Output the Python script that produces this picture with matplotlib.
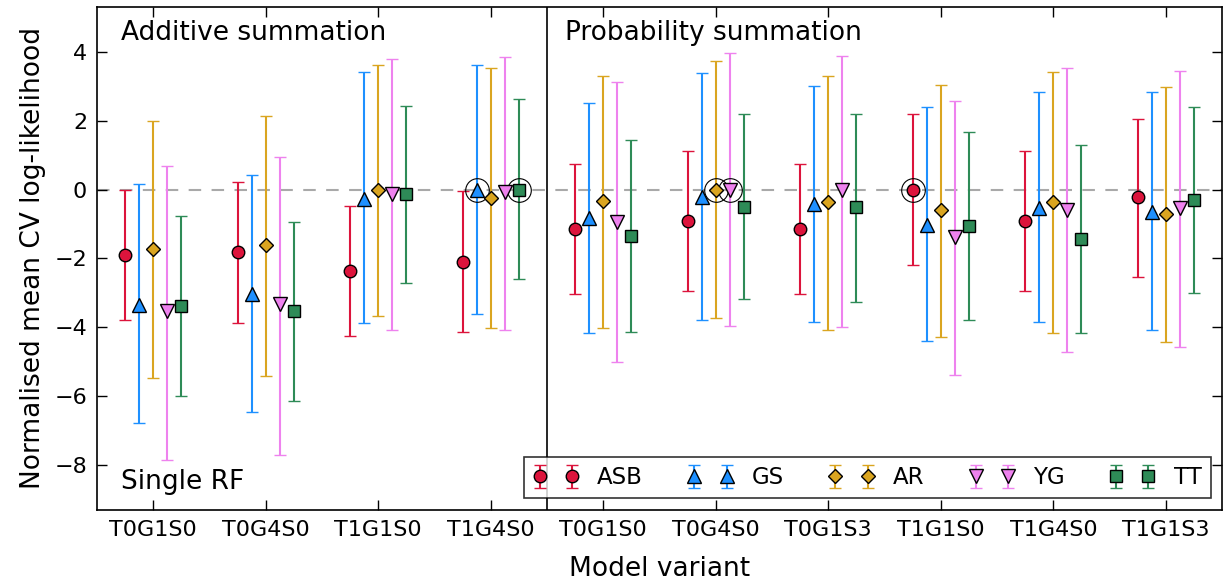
import matplotlib.pyplot as plt
import numpy as np

variants = ['T0G1S0', 'T0G4S0', 'T1G1S0', 'T1G4S0',
            'T0G1S0', 'T0G4S0', 'T0G1S3', 'T1G1S0', 'T1G4S0', 'T1G1S3']
names = ['ASB', 'GS', 'AR', 'YG', 'TT']

# mean, upper and lower ends of the bars per model
asb_mean = [-1.90, -1.82, -2.37, -2.10, -1.14, -0.90, -1.14, 0.00, -0.90, -0.23]
asb_hi = [0.00, 0.22, -0.49, -0.05, 0.73, 1.13, 0.73, 2.19, 1.13, 2.05]
asb_lo = [-3.80, -3.87, -4.26, -4.14, -3.03, -2.95, -3.03, -2.18, -2.95, -2.53]

gs_mean = [-3.35, -3.04, -0.26, 0.00, -0.84, -0.22, -0.42, -1.02, -0.53, -0.64]
gs_hi = [0.15, 0.42, 3.41, 3.63, 2.50, 3.38, 3.01, 2.39, 2.84, 2.82]
gs_lo = [-6.79, -6.45, -3.87, -3.61, -4.18, -3.80, -3.86, -4.40, -3.86, -4.09]

ar_mean = [-1.74, -1.62, -0.02, -0.25, -0.34, 0.00, -0.37, -0.60, -0.37, -0.72]
ar_hi = [1.98, 2.14, 3.63, 3.53, 3.30, 3.73, 3.30, 3.04, 3.41, 2.99]
ar_lo = [-5.48, -5.40, -3.67, -4.02, -4.01, -3.72, -4.08, -4.27, -4.16, -4.43]

yg_mean = [-3.54, -3.33, -0.12, -0.08, -0.94, 0.00, -0.02, -1.38, -0.58, -0.55]
yg_hi = [0.67, 0.95, 3.80, 3.85, 3.11, 3.97, 3.87, 2.56, 3.52, 3.43]
yg_lo = [-7.85, -7.71, -4.07, -4.07, -5.02, -3.95, -3.98, -5.39, -4.72, -4.57]

tt_mean = [-3.38, -3.53, -0.14, 0.00, -1.35, -0.50, -0.52, -1.06, -1.45, -0.29]
tt_hi = [-0.78, -0.94, 2.42, 2.63, 1.43, 2.18, 2.18, 1.67, 1.28, 2.41]
tt_lo = [-5.99, -6.14, -2.72, -2.61, -4.14, -3.19, -3.26, -3.80, -4.18, -2.99]

# which model was best in each variant (circled)
best = [[3, 'GS'], [3, 'TT'], [5, 'AR'], [5, 'YG'], [7, 'ASB']]

means = [asb_mean, gs_mean, ar_mean, yg_mean, tt_mean]
his = [asb_hi, gs_hi, ar_hi, yg_hi, tt_hi]
los = [asb_lo, gs_lo, ar_lo, yg_lo, tt_lo]
colors = ['crimson', 'dodgerblue', 'goldenrod', 'violet', 'seagreen']
markers = ['o', '^', 'D', 'v', 's']
sizes = [9, 10, 7, 10, 8]
offsets = [-0.25, -0.125, 0, 0.125, 0.25]

fig, ax = plt.subplots(figsize=(12.27, 5.88), dpi=100)
fig.subplots_adjust(left=0.079, right=0.996, top=0.988, bottom=0.133)

x = np.arange(len(variants))
ax.axhline(0, color='darkgray', ls='--', dashes=(6, 5), lw=1.5, zorder=0)
ax.axvline(3.5, color='black', lw=1.2)

for i in range(5):
    m = np.array(means[i])
    err = [m - np.array(los[i]), np.array(his[i]) - m]
    ax.errorbar(x + offsets[i], m, yerr=err, fmt=markers[i], color=colors[i],
                mfc=colors[i], mec='black', mew=1, ms=sizes[i],
                elinewidth=1.5, capsize=4.5, capthick=1.5, label=names[i])

for k, name in best:
    i = names.index(name)
    ax.plot(k + offsets[i], means[i][k], 'o', ms=17, mfc='none', mec='black', mew=0.8)

ax.set_xlim(-0.5, 9.5)
ax.set_ylim(-9.3, 5.3)
ax.set_xticks(x)
ax.set_xticklabels(variants, fontsize=16)
ax.set_yticks([-8, -6, -4, -2, 0, 2, 4])
ax.tick_params(axis='y', labelsize=16)
ax.tick_params(direction='in', top=True, right=True, length=7, width=1, pad=7)
for s in ax.spines.values():
    s.set_linewidth(1.2)

ax.set_xlabel('Model variant', fontsize=19, labelpad=12)
ax.set_ylabel('Normalised mean CV log-likelihood', fontsize=19, labelpad=6)

ax.text(-0.29, 4.55, 'Additive summation', fontsize=19, va='center')
ax.text(3.66, 4.55, 'Probability summation', fontsize=19, va='center')
ax.text(-0.29, -8.48, 'Single RF', fontsize=19, va='center')

leg = ax.legend(loc='lower right', ncol=5, numpoints=2, fontsize=16.5,
                frameon=True, fancybox=False, edgecolor='black',
                handlelength=2.0, columnspacing=1.95, handletextpad=0.8,
                borderaxespad=0.5, borderpad=0.4)
leg.get_frame().set_linewidth(1.2)

plt.savefig('out.png')
